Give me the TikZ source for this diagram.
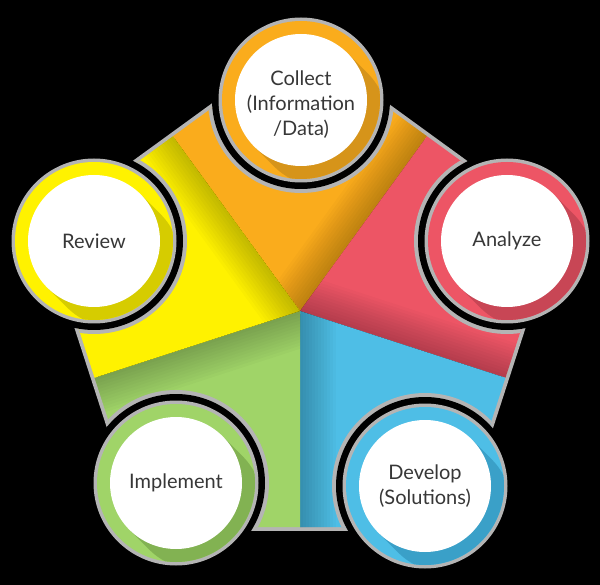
\documentclass[tikz,border=0pt]{standalone}
\usepackage{fontspec}
\setmainfont{Lato}
\usetikzlibrary{calc}
\definecolor{halocol}{RGB}{180,180,180}
\definecolor{txtcol}{RGB}{55,55,55}
\definecolor{orgB}{RGB}{250,172,28}
\definecolor{orgS}{RGB}{214,148,26}
\definecolor{redB}{RGB}{237,85,101}
\definecolor{redS}{RGB}{200,70,85}
\definecolor{bluB}{RGB}{78,190,230}
\definecolor{bluS}{RGB}{58,160,200}
\definecolor{grnB}{RGB}{160,212,104}
\definecolor{grnS}{RGB}{130,178,82}
\definecolor{yelB}{RGB}{255,242,0}
\definecolor{yelS}{RGB}{214,204,0}
\tikzset{
  whitedisk/.style={circle, fill=white, minimum size=132pt, inner sep=0pt},
  stagetext/.style={align=center, text=txtcol, font=\fontsize{20pt}{25pt}\selectfont, inner sep=0pt},
}
\newcommand\pentapath{(O) ++(90:267) -- ([shift={(18:267)}]O) -- ([shift={(-54:267)}]O) -- ([shift={(-126:267)}]O) -- ([shift={(162:267)}]O) -- cycle}
\newcommand\sectorfill[2]{%
  \fill[#1] (O) -- ([shift={(#2:216)}]O) -- ([shift={(#2+36:267)}]O) -- ([shift={(#2+72:216)}]O) -- cycle;
  \begin{scope}
    \clip (O) -- ([shift={(#2:216)}]O) -- ([shift={(#2+36:267)}]O) -- ([shift={(#2+72:216)}]O) -- cycle;
    \begin{scope}[shift={(300,-311)},rotate=#2]
      \foreach \w in {3,6,...,36} \fill[black,opacity=0.02] (0,0) rectangle (300,\w);
    \end{scope}
  \end{scope}}
\newcommand\stagering[4]{% name, coordinate, ring colour, shadow colour
  \fill[halocol] (#2) circle[radius=82.5];
  \fill[#3] (#2) circle[radius=79];
  \begin{scope}
    \clip (#2) circle[radius=79];
    \fill[#4] ($(#2)+(45:66)$) -- ++(20,-20) arc[start angle=45,end angle=-135,radius=66] -- ($(#2)+(225:66)$) -- cycle;
  \end{scope}
  \node[whitedisk] (#1) at (#2) {};}
\begin{document}
\begin{tikzpicture}[x=1pt,y=1pt]
\useasboundingbox (0,0) rectangle (600,-585);
\fill[black] (0,0) rectangle (600,-585);
\coordinate (O) at (300,-311);
\coordinate (cC) at (301,-100);
\coordinate (cA) at (507,-241);
\coordinate (cD) at (425,-486);
\coordinate (cI) at (176,-483);
\coordinate (cR) at (94,-241);
% outer halo of the pentagon
\draw[halocol, line width=7.5pt, line join=miter] \pentapath;
% five sectors
\sectorfill{orgB}{54}
\sectorfill{redB}{-18}
\sectorfill{bluB}{-90}
\sectorfill{grnB}{198}
\sectorfill{yelB}{126}
% cut-outs round the circles
\begin{scope}
  \clip \pentapath;
  \foreach \p in {cC,cA,cD,cI,cR} \fill[halocol] (\p) circle[radius=93];
\end{scope}
\foreach \p in {cC,cA,cD,cI,cR} \fill[black] (\p) circle[radius=89];
% circles
\stagering{collect}{cC}{orgB}{orgS}
\stagering{analyze}{cA}{redB}{redS}
\stagering{develop}{cD}{bluB}{bluS}
\stagering{implement}{cI}{grnB}{grnS}
\stagering{review}{cR}{yelB}{yelS}
% texts
\node[stagetext] (collect-t) at ($(collect)+(0,-5)$) {Collect\\(Information\\/Data)};
\node[stagetext] (analyze-t) at (analyze) {Analyze};
\node[stagetext] (develop-t) at (develop) {Develop\\(Solutions)};
\node[stagetext] (implement-t) at (implement) {Implement};
\node[stagetext] (review-t) at (review) {Review};
\end{tikzpicture}
\end{document}
